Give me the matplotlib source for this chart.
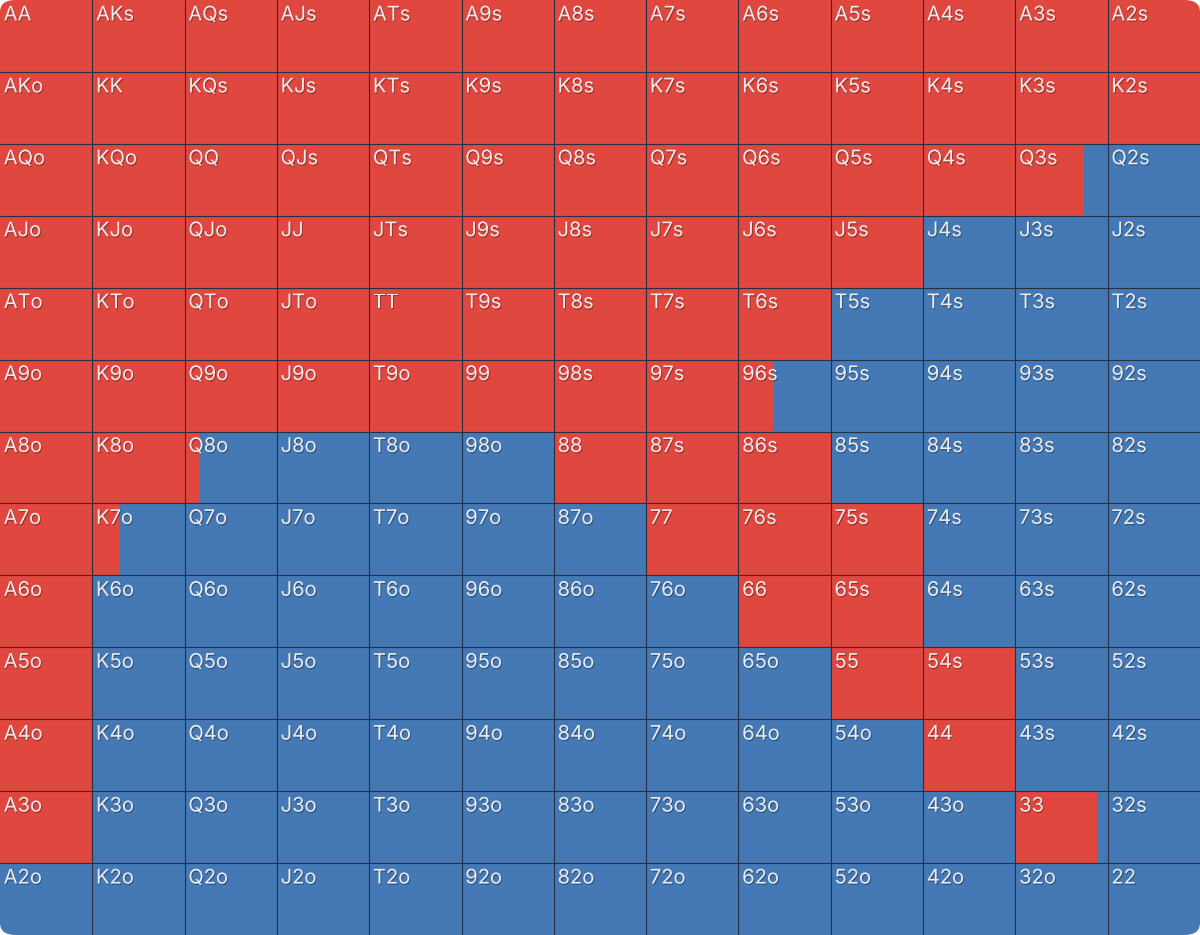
import matplotlib.pyplot as plt
import matplotlib.patheffects as pe
from matplotlib.patches import FancyBboxPatch

# ranks and raise frequency per cell (row = first rank, col = second rank)
ranks = ["A", "K", "Q", "J", "T", "9", "8", "7", "6", "5", "4", "3", "2"]
raise_freq = [
    [1, 1, 1, 1, 1, 1, 1, 1, 1, 1, 1, 1, 1],
    [1, 1, 1, 1, 1, 1, 1, 1, 1, 1, 1, 1, 1],
    [1, 1, 1, 1, 1, 1, 1, 1, 1, 1, 1, 0.74, 0],
    [1, 1, 1, 1, 1, 1, 1, 1, 1, 1, 0, 0, 0],
    [1, 1, 1, 1, 1, 1, 1, 1, 1, 0, 0, 0, 0],
    [1, 1, 1, 1, 1, 1, 1, 1, 0.39, 0, 0, 0, 0],
    [1, 1, 0.17, 0, 0, 0, 1, 1, 1, 0, 0, 0, 0],
    [1, 0.29, 0, 0, 0, 0, 0, 1, 1, 1, 0, 0, 0],
    [1, 0, 0, 0, 0, 0, 0, 0, 1, 1, 0, 0, 0],
    [1, 0, 0, 0, 0, 0, 0, 0, 0, 1, 1, 0, 0],
    [1, 0, 0, 0, 0, 0, 0, 0, 0, 0, 1, 0, 0],
    [1, 0, 0, 0, 0, 0, 0, 0, 0, 0, 0, 0.88, 0],
    [0, 0, 0, 0, 0, 0, 0, 0, 0, 0, 0, 0, 0],
]

red = "#e0473f"
blue = "#4479b5"
line_col = "#263042"

plt.rcParams["font.family"] = ["Inter", "DejaVu Sans"]

fig = plt.figure(figsize=(12, 9.35), dpi=100)
ax = fig.add_axes([0, 0, 1, 1])
ax.set_xlim(0, 13)
ax.set_ylim(13, 0)
ax.axis("off")

# rounded outer corners
clip = FancyBboxPatch((0, 0), 1, 1, boxstyle="round,pad=0,rounding_size=0.013",
                      transform=ax.transAxes, facecolor="none", edgecolor="none")
ax.add_patch(clip)

n = len(ranks)
for i in range(n):
    cols = list(range(n))
    r = raise_freq[i]
    b1 = ax.barh([i + 0.5] * n, r, left=cols, height=1.0, color=red, linewidth=0)
    b2 = ax.barh([i + 0.5] * n, [1 - v for v in r], left=[c + v for c, v in zip(cols, r)],
                 height=1.0, color=blue, linewidth=0)
    for p in list(b1) + list(b2):
        p.set_clip_path(clip)

for k in range(1, n):
    ax.axvline(k, color=line_col, lw=0.8)
    ax.axhline(k, color=line_col, lw=0.8)

for i in range(n):
    for j in range(n):
        if i == j:
            hand = ranks[i] + ranks[j]
        elif j > i:
            hand = ranks[i] + ranks[j] + "s"
        else:
            hand = ranks[j] + ranks[i] + "o"
        t = ax.text(j + 0.04, i + 0.09, hand, color="#ececec", fontsize=14.5,
                    ha="left", va="top")
        t.set_path_effects([
            pe.SimplePatchShadow(offset=(0.7, -0.9), shadow_rgbFace="black", alpha=0.3),
            pe.Normal(),
        ])

fig.savefig("out.png", dpi=100)
